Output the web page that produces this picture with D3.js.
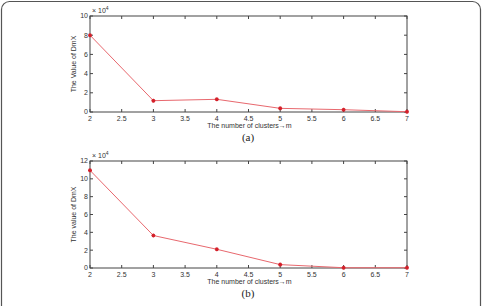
<!DOCTYPE html>
<html>
<head>
<meta charset="utf-8">
<script src="https://cdn.jsdelivr.net/npm/d3@7"></script>
<style>
  body { margin: 0; background: #fff; }
  svg { display: block; }
</style>
</head>
<body>
<div id="chart"></div>
<script>
let clusters = [2, 3, 4, 5, 6, 7];
let dmxA = [8.0, 1.18, 1.32, 0.38, 0.24, 0.03];
let dmxB = [10.95, 3.64, 2.1, 0.38, 0.03, 0.03];
let xTicks = [2, 2.5, 3, 3.5, 4, 4.5, 5, 5.5, 6, 6.5, 7];
let yTicksA = [0, 2, 4, 6, 8, 10];
let yTicksB = [0, 2, 4, 6, 8, 10, 12];

let width = 486, height = 306;

let svg = d3.select("#chart")
    .append("svg")
    .attr("width", width)
    .attr("height", height)
    .attr("font-family", "Liberation Sans, Arial, sans-serif");

// outer frame
svg.append("rect")
    .attr("x", 1.5).attr("y", 1.5)
    .attr("width", 479).attr("height", 320)
    .attr("rx", 8)
    .attr("fill", "none")
    .attr("stroke", "#555")
    .attr("stroke-width", 1.2);

function panel(cfg) {
    let x = d3.scaleLinear().domain([2, 7]).range([cfg.left, cfg.right]);
    let y = d3.scaleLinear().domain([0, cfg.ymax]).range([cfg.bottom, cfg.top]);
    let g = svg.append("g");
    let axisColor = "#444";

    // box
    g.append("rect")
        .attr("x", cfg.left).attr("y", cfg.top)
        .attr("width", cfg.right - cfg.left).attr("height", cfg.bottom - cfg.top)
        .attr("fill", "none").attr("stroke", axisColor).attr("stroke-width", 1);

    // inward ticks, all four sides
    let tl = 3;
    g.append("g").selectAll("line").data(cfg.xticks).join("line")
        .attr("x1", d => x(d)).attr("x2", d => x(d))
        .attr("y1", cfg.bottom).attr("y2", cfg.bottom - tl)
        .attr("stroke", axisColor);
    g.append("g").selectAll("line").data(cfg.xticks).join("line")
        .attr("x1", d => x(d)).attr("x2", d => x(d))
        .attr("y1", cfg.top).attr("y2", cfg.top + tl)
        .attr("stroke", axisColor);
    g.append("g").selectAll("line").data(cfg.yticks).join("line")
        .attr("x1", cfg.left).attr("x2", cfg.left + tl)
        .attr("y1", d => y(d)).attr("y2", d => y(d))
        .attr("stroke", axisColor);
    g.append("g").selectAll("line").data(cfg.yticks).join("line")
        .attr("x1", cfg.right).attr("x2", cfg.right - tl)
        .attr("y1", d => y(d)).attr("y2", d => y(d))
        .attr("stroke", axisColor);

    // tick labels
    g.append("g").attr("font-size", 7).attr("fill", "#333")
        .attr("text-anchor", "middle")
        .selectAll("text").data(cfg.xticks).join("text")
        .attr("x", d => x(d)).attr("y", cfg.bottom + 9)
        .text(d => d);
    g.append("g").attr("font-size", 7).attr("fill", "#333")
        .attr("text-anchor", "end")
        .selectAll("text").data(cfg.yticks).join("text")
        .attr("x", cfg.left - 2).attr("y", d => y(d)).attr("dy", "0.35em")
        .text(d => d);

    // exponent
    let ex = g.append("text").attr("x", cfg.left + 2).attr("y", cfg.top - 3)
        .attr("font-size", 7).attr("fill", "#333");
    ex.append("tspan").text("× 10");
    ex.append("tspan").attr("font-size", 5).attr("dy", -3).text("4");

    // axis titles
    g.append("text")
        .attr("x", (cfg.left + cfg.right) / 2 + 1).attr("y", cfg.bottom + 16)
        .attr("text-anchor", "middle").attr("font-size", 7).attr("fill", "#333")
        .text("The number of clusters→m");
    g.append("text")
        .attr("transform", `translate(${cfg.left - 14},${(cfg.top + cfg.bottom) / 2}) rotate(-90)`)
        .attr("text-anchor", "middle").attr("font-size", 7).attr("fill", "#333")
        .text(cfg.ylabel);

    // panel letter
    g.append("text")
        .attr("x", 248).attr("y", cfg.bottom + 29)
        .attr("text-anchor", "middle")
        .attr("font-family", "Liberation Serif, Times New Roman, serif")
        .attr("font-size", 11).attr("fill", "#222")
        .text(cfg.letter);

    // series
    let line = d3.line().x((d, i) => x(clusters[i])).y(d => y(d));
    g.append("path")
        .attr("d", line(cfg.values))
        .attr("fill", "none")
        .attr("stroke", "#e8686e")
        .attr("stroke-width", 1);

    let s = 2;
    let mk = g.append("g").attr("stroke", "#d4202a").attr("stroke-width", 1.1);
    mk.selectAll("path").data(cfg.values).join("path")
        .attr("d", (d, i) => {
            let px = x(clusters[i]), py = y(d);
            return `M${px - s},${py}H${px + s}M${px},${py - s}V${py + s}` +
                `M${px - s * 0.7},${py - s * 0.7}L${px + s * 0.7},${py + s * 0.7}` +
                `M${px - s * 0.7},${py + s * 0.7}L${px + s * 0.7},${py - s * 0.7}`;
        });
}

panel({ left: 90, right: 407, top: 16, bottom: 112, ymax: 10,
    xticks: xTicks, yticks: yTicksA, values: dmxA,
    ylabel: "The Value of DmX", letter: "(a)" });

panel({ left: 90, right: 407, top: 161, bottom: 268, ymax: 12,
    xticks: xTicks, yticks: yTicksB, values: dmxB,
    ylabel: "The value of DmX", letter: "(b)" });
</script>
</body>
</html>
